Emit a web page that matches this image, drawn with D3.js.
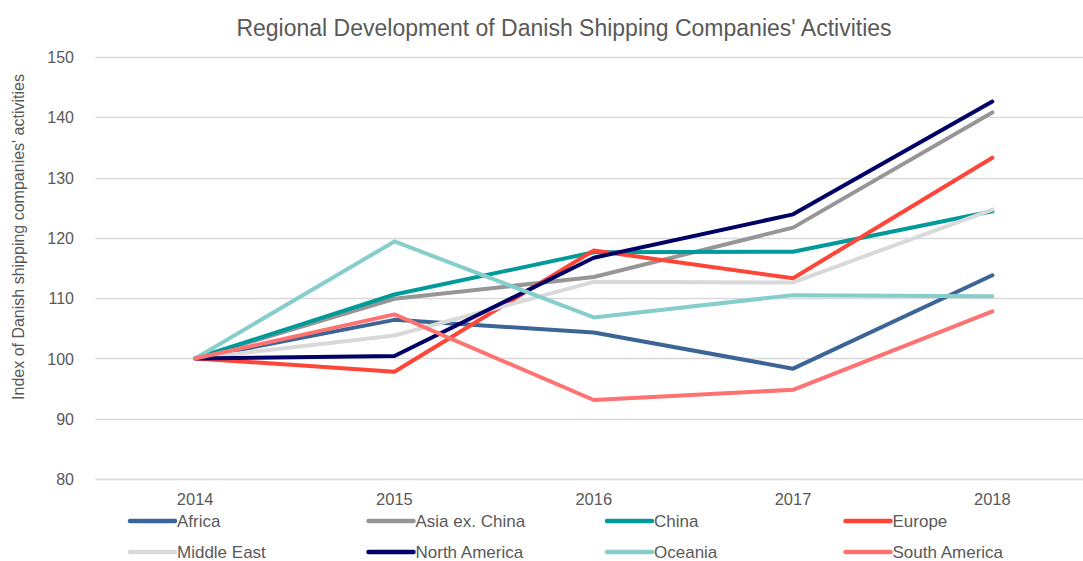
<!DOCTYPE html>
<html>
<head>
<meta charset="utf-8">
<script src="https://cdn.jsdelivr.net/npm/d3@7"></script>
<style>
  body { margin: 0; background: #fff; }
  svg text { font-family: "Liberation Sans", Arial, sans-serif; fill: #595959; }
</style>
</head>
<body>
<div id="chart"></div>
<script>
const years = ['2014', '2015', '2016', '2017', '2018'];
const yTicks = [80, 90, 100, 110, 120, 130, 140, 150];

const regions = ['Africa', 'Asia ex. China', 'China', 'Europe', 'Middle East', 'North America', 'Oceania', 'South America'];
const regionColors = ['#3B6597', '#969696', '#009A9A', '#FF4538', '#D9D9D9', '#000066', '#86CECC', '#FF7272'];

const africa = [100, 106.4, 104.3, 98.3, 113.8];
const asiaExChina = [100, 109.9, 113.5, 121.7, 140.8];
const china = [100, 110.6, 117.6, 117.7, 124.4];
const europe = [100, 97.8, 117.9, 113.3, 133.3];
const middleEast = [100, 103.8, 112.7, 112.6, 124.7];
const northAmerica = [100, 100.4, 116.7, 123.9, 142.6];
const oceania = [100, 119.4, 106.8, 110.5, 110.3];
const southAmerica = [100, 107.3, 93.1, 94.8, 107.8];

const seriesValues = [africa, asiaExChina, china, europe, middleEast, northAmerica, oceania, southAmerica];

const width = 1083;
const height = 561;

const svg = d3.select('#chart').append('svg')
    .attr('width', width)
    .attr('height', height);

const x = d3.scaleBand()
    .domain(years)
    .range([95.5, 1092]);

const y = d3.scaleLinear()
    .domain([80, 150])
    .range([479, 57]);

const xc = d => x(d) + x.bandwidth() / 2;

// Title
svg.append('text')
    .attr('x', 564)
    .attr('y', 36)
    .attr('text-anchor', 'middle')
    .style('font-size', '23px')
    .text("Regional Development of Danish Shipping Companies' Activities");

// Gridlines
svg.append('g')
    .selectAll('line')
    .data(yTicks)
    .enter()
    .append('line')
    .attr('x1', 95.5)
    .attr('x2', 1092)
    .attr('y1', d => Math.round(y(d)) + 0.5)
    .attr('y2', d => Math.round(y(d)) + 0.5)
    .attr('stroke', '#D9D9D9')
    .attr('stroke-width', 1.3);

// Y axis labels
const yAxis = d3.axisLeft(y).tickValues(yTicks).tickSize(0).tickPadding(0);
const yg = svg.append('g')
    .attr('transform', 'translate(74,0)')
    .call(yAxis);
yg.select('.domain').remove();
yg.selectAll('text')
    .attr('dy', '0.35em')
    .style('font-size', '16px')
    .style('font-family', '"Liberation Sans", Arial, sans-serif')
    .attr('fill', '#595959');

// X axis labels
const xAxis = d3.axisBottom(x).tickSize(0).tickPadding(0);
const xg = svg.append('g')
    .attr('transform', 'translate(0,505)')
    .call(xAxis);
xg.select('.domain').remove();
xg.selectAll('text')
    .attr('y', 0)
    .attr('dy', 0)
    .style('font-size', '16.5px')
    .style('font-family', '"Liberation Sans", Arial, sans-serif')
    .attr('fill', '#595959');

// Y axis title
svg.append('text')
    .attr('transform', 'translate(24,237) rotate(-90)')
    .attr('text-anchor', 'middle')
    .style('font-size', '16px')
    .text("Index of Danish shipping companies' activities");

// Lines
const line = d3.line()
    .x((d, i) => xc(years[i]))
    .y(d => y(d));

svg.append('g')
    .selectAll('path')
    .data(seriesValues)
    .enter()
    .append('path')
    .attr('d', line)
    .attr('fill', 'none')
    .attr('stroke', (d, i) => regionColors[i])
    .attr('stroke-width', 4)
    .attr('stroke-linejoin', 'round')
    .attr('stroke-linecap', 'round');

// Legend
const legend = svg.append('g');
const items = legend.selectAll('g')
    .data(regions)
    .enter()
    .append('g')
    .attr('transform', (d, i) => `translate(${130 + (i % 4) * 238.5},${i < 4 ? 521 : 552})`);

items.append('line')
    .attr('x1', 0)
    .attr('x2', 45)
    .attr('stroke', (d, i) => regionColors[i])
    .attr('stroke-width', 4.5)
    .attr('stroke-linecap', 'round');

items.append('text')
    .attr('x', 47)
    .attr('dy', '0.35em')
    .style('font-size', '17px')
    .text(d => d);
</script>
</body>
</html>
